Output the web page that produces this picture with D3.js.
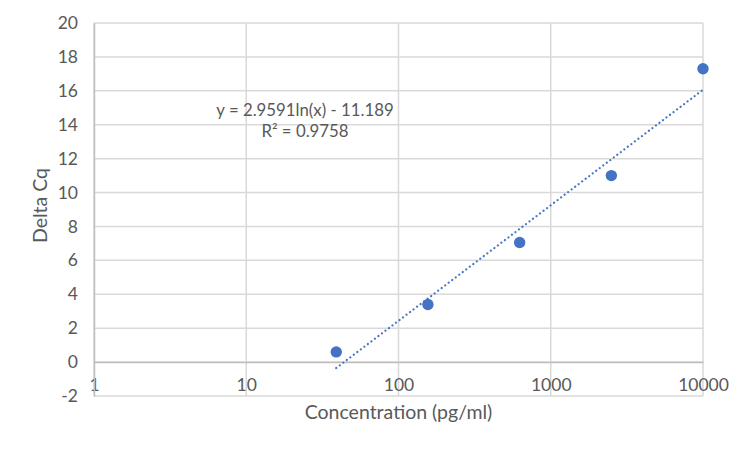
<!DOCTYPE html>
<html>
<head>
<meta charset="utf-8">
<script src="https://cdn.jsdelivr.net/npm/d3@7"></script>
<style>
  body { margin: 0; background: #fff; }
  text { font-family: Lato, "Open Sans", sans-serif; fill: #595959; }
</style>
</head>
<body>
<svg id="chart"></svg>
<script>
// data
const concentration = [39, 156, 625, 2500, 10000];
const deltaCq = [0.6, 3.4, 7.05, 11.0, 17.3];
const xTicks = [1, 10, 100, 1000, 10000];
const yTicks = [-2, 0, 2, 4, 6, 8, 10, 12, 14, 16, 18, 20];
const fitSlope = 2.9591;
const fitIntercept = -11.189;
const fitLabels = ['y = 2.9591ln(x) - 11.189', 'R\u00B2 = 0.9758'];

const width = 750, height = 450;
const margin = { top: 23, right: 47, bottom: 54, left: 94 };

const svg = d3.select('#chart')
    .attr('width', width)
    .attr('height', height);

const x = d3.scaleLog()
    .domain([1, 10000])
    .range([margin.left, width - margin.right]);

const y = d3.scaleLinear()
    .domain([-2, 20])
    .range([height - margin.bottom, margin.top]);

// horizontal gridlines
svg.append('g')
    .selectAll('line')
    .data(yTicks)
    .enter()
    .append('line')
    .attr('x1', x(1))
    .attr('x2', x(10000))
    .attr('y1', d => y(d))
    .attr('y2', d => y(d))
    .attr('stroke', '#d9d9d9')
    .attr('stroke-width', 1.5);

// vertical gridlines
svg.append('g')
    .selectAll('line')
    .data(xTicks)
    .enter()
    .append('line')
    .attr('x1', d => x(d))
    .attr('x2', d => x(d))
    .attr('y1', y(-2))
    .attr('y2', y(20))
    .attr('stroke', '#d9d9d9')
    .attr('stroke-width', 1.5);

// x axis line sits on y = 0, labels below it
const xAxis = d3.axisBottom(x)
    .tickValues(xTicks)
    .tickFormat(d3.format('d'))
    .tickSize(0)
    .tickPadding(16);

const gx = svg.append('g')
    .attr('transform', `translate(0, ${y(0)})`)
    .call(xAxis);
gx.select('.domain').attr('stroke', '#bfbfbf').attr('stroke-width', 1.5);
gx.selectAll('text').style('font-size', '17.5px').attr('font-family', null);

// plain hyphen for negatives, like the original
const yAxis = d3.axisLeft(y)
    .tickValues(yTicks)
    .tickFormat(d => String(d))
    .tickSize(0)
    .tickPadding(16);

const gy = svg.append('g')
    .attr('transform', `translate(${x(1)}, 0)`)
    .call(yAxis);
gy.select('.domain').attr('stroke', '#bfbfbf').attr('stroke-width', 1.5);
gy.selectAll('text').style('font-size', '17.5px').attr('font-family', null);

// logarithmic trendline, straight on a log axis
const fitX = d3.extent(concentration);
const line = d3.line()
    .x(d => x(d))
    .y(d => y(fitSlope * Math.log(d) + fitIntercept));

svg.append('path')
    .datum(fitX)
    .attr('d', line)
    .attr('fill', 'none')
    .attr('stroke', '#4472c4')
    .attr('stroke-width', 2.2)
    .attr('stroke-linecap', 'round')
    .attr('stroke-dasharray', '0.01 4.4');

// data points
svg.append('g')
    .selectAll('circle')
    .data(concentration)
    .enter()
    .append('circle')
    .attr('cx', d => x(d))
    .attr('cy', (d, i) => y(deltaCq[i]))
    .attr('r', 5.7)
    .attr('fill', '#4472c4');

// equation label
svg.append('g')
    .selectAll('text')
    .data(fitLabels)
    .enter()
    .append('text')
    .attr('x', 305)
    .attr('y', (d, i) => 116 + i * 21)
    .attr('text-anchor', 'middle')
    .style('font-size', '16.8px')
    .text(d => d);

// axis titles
svg.append('text')
    .attr('x', (x(1) + x(10000)) / 2)
    .attr('y', 419)
    .attr('text-anchor', 'middle')
    .style('font-size', '19.5px')
    .text('Concentration (pg/ml)');

svg.append('text')
    .attr('transform', `translate(47, ${(y(-2) + y(20)) / 2 - 4}) rotate(-90)`)
    .attr('text-anchor', 'middle')
    .style('font-size', '19.5px')
    .text('Delta Cq');
</script>
</body>
</html>
